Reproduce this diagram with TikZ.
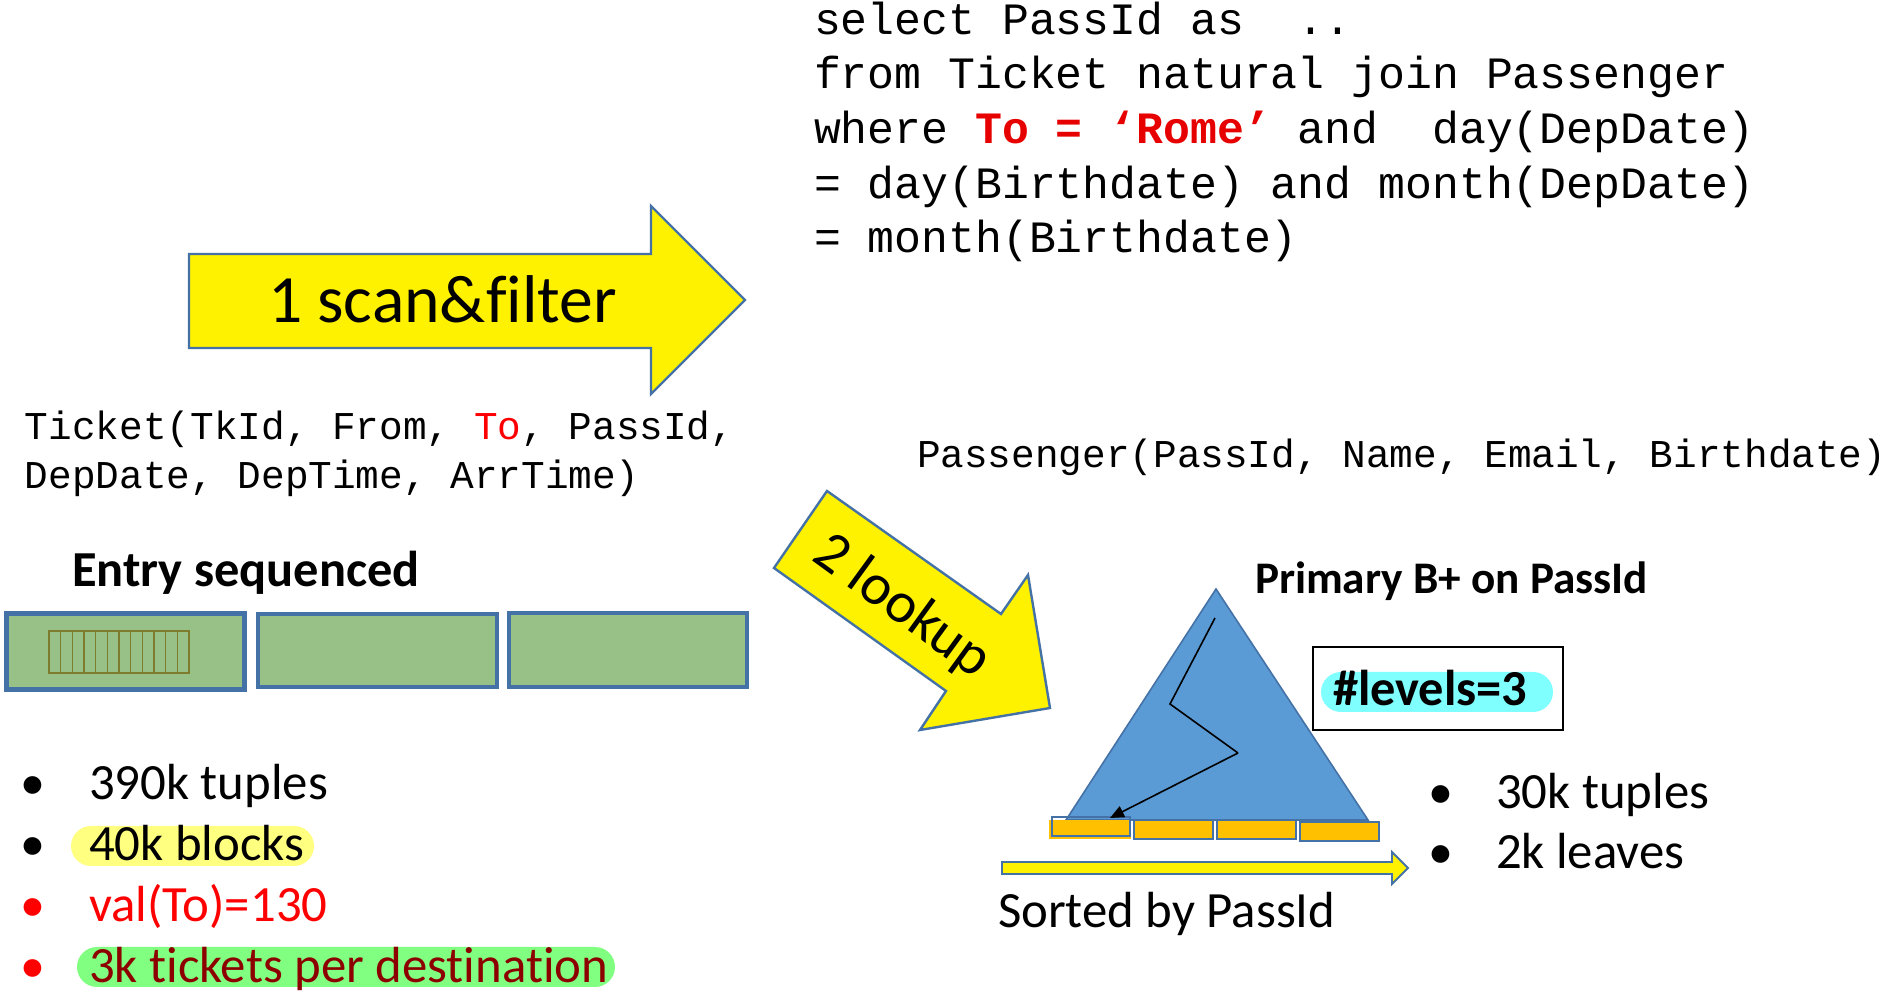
\documentclass[tikz,border=0pt]{standalone}
\usepackage{fontspec}
\setmainfont{Carlito}[Ligatures=NoCommon]
\newfontfamily\mono{Liberation Mono}
\usetikzlibrary{arrows.meta}
\definecolor{ppblue}{RGB}{68,114,166}
\definecolor{trifill}{RGB}{91,155,213}
\definecolor{blockgreen}{RGB}{152,193,135}
\definecolor{leaforange}{RGB}{255,192,0}
\definecolor{hlyellow}{RGB}{255,255,128}
\definecolor{hlgreen}{RGB}{128,255,128}
\definecolor{hlcyan}{RGB}{128,255,255}
\definecolor{darkred}{RGB}{140,0,0}
\definecolor{gridolive}{RGB}{125,125,45}
\definecolor{sqlred}{RGB}{230,0,0}
\tikzset{
  lbl/.style={anchor=base west, inner sep=0pt, outer sep=0pt},
  body/.style={lbl, font=\fontsize{25.4pt}{30pt}\selectfont},
  boldlbl/.style={lbl, font=\bfseries\fontsize{25.2pt}{30pt}\selectfont},
  sql/.style={lbl, font=\mono\fontsize{22.4pt}{27pt}\selectfont},
  schema/.style={lbl, font=\mono\fontsize{19.7pt}{24pt}\selectfont},
  bul/.style={anchor=base, inner sep=0pt, outer sep=0pt, font=\fontsize{25pt}{30pt}\selectfont},
  blockarrow/.style={fill=yellow, draw=ppblue, line width=1.2pt, line join=miter},
  blockbox/.style={fill=blockgreen, draw=ppblue, line width=2pt},
  leafbox/.style={fill=leaforange, draw=ppblue, line width=1pt},
  pill/.style={rounded corners=10pt, draw=none},
}
\begin{document}
\begin{tikzpicture}[x=0.5pt,y=-0.5pt]
\useasboundingbox (0,0) rectangle (1887,999);

% ---------- SQL query ----------
\node[sql] (q1) at (814,35) {select PassId as~~..};
\node[sql] (q2) at (814,89) {from Ticket natural join Passenger};
\node[sql] (q3) at (814,144) {where {\bfseries\color{sqlred}To = ‘Rome’} and~~day(DepDate)};
\node[sql] (q4) at (814,199) {= day(Birthdate) and month(DepDate)};
\node[sql] (q5) at (814,253) {= month(Birthdate)};

% ---------- arrow 1 ----------
\draw[blockarrow] (189,254) -- (651,254) -- (651,206) -- (745,300) -- (651,394) -- (651,348) -- (189,348) -- cycle;
\node[lbl, font=\fontsize{33.8pt}{40pt}\selectfont] (a1) at (268,323) {1 scan\&filter};

% ---------- schemas ----------
\node[schema] (t1) at (25,440) {Ticket(TkId, From, {\color{red}To}, PassId,};
\node[schema] (t2) at (25,489) {DepDate, DepTime, ArrTime)};
\node[schema] (p1) at (917,468) {Passenger(PassId, Name, Email, Birthdate)};

% ---------- entry sequenced ----------
\node[boldlbl] (es) at (72,587) {Entry sequenced};
\draw[blockbox, line width=2.5pt] (6,614) rectangle (244,690);
\draw[blockbox] (258,614) rectangle (497,687);
\draw[blockbox] (509,613) rectangle (747,687);
\draw[gridolive, line width=0.8pt] (49,631) rectangle (189,673);
\foreach \k in {1,...,11} {
  \draw[gridolive, line width=0.8pt] ({49+\k*140/12},631) -- ({49+\k*140/12},673);
}

% ---------- left bullets ----------
\fill[hlyellow, pill] (71,826) rectangle (314,866);
\fill[hlgreen, pill] (77,947) rectangle (615,987);
\node[bul] (b1) at (33,800) {•};
\node[bul] (b2) at (33,861) {•};
\node[bul, text=red] (b3) at (33,922) {•};
\node[bul, text=red] (b4) at (33,983) {•};
\node[body] (l1) at (89,800) {390k tuples};
\node[body] (l2) at (89,861) {40k blocks};
\node[body, text=red] (l3) at (89,922) {val(To)=130};
\node[body, text=darkred] (l4) at (89,983) {3k tickets per destination};

% ---------- arrow 2 ----------
\draw[blockarrow] (827,491) -- (1001,614) -- (1028,575) -- (1050,708) -- (920,730) -- (946,691) -- (774,568) -- cycle;
\node[inner sep=0pt, rotate=-36, font=\fontsize{29pt}{34pt}\selectfont] (a2) at (902,607) {2 lookup};

% ---------- B+ tree ----------
\node[lbl, font=\bfseries\fontsize{22.6pt}{26pt}\selectfont] (bt) at (1255,594) {Primary B+ on PassId};
\draw[fill=trifill, draw=ppblue, line width=0.8pt] (1216,589) -- (1368,820) -- (1066,820) -- cycle;
\fill[leaforange] (1049,820) rectangle (1131,839);
\draw[leafbox, fill=none] (1052,817) rectangle (1130,836);
\draw[leafbox] (1134,820) rectangle (1213,839);
\draw[leafbox] (1217,820) rectangle (1296,839);
\draw[leafbox] (1300,822) rectangle (1379,841);
\coordinate (r0) at (1215,618);
\coordinate (r1) at (1170,704);
\coordinate (r2) at (1238,753);
\coordinate (r3) at (1110,818);
\draw[black, line width=0.8pt] (r0) -- (r1) -- (r2);
\draw[black, line width=0.8pt, -{Triangle[length=7pt,width=6pt]}] (r2) -- (r3);

% levels box
\draw[black, line width=1.2pt] (1313,647) rectangle (1563,730);
\fill[hlcyan, pill] (1321,672) rectangle (1553,712);
\node[lbl, font=\bfseries\fontsize{25.2pt}{30pt}\selectfont] (lv) at (1333,706) {\#levels=3};

% right bullets
\node[bul] (rb1) at (1441,809) {•};
\node[bul] (rb2) at (1441,869) {•};
\node[body] (r1t) at (1496,809) {30k tuples};
\node[body] (r2t) at (1496,869) {2k leaves};

% sorted arrow
\draw[fill=yellow, draw=ppblue, line width=0.9pt] (1002,862) -- (1392,862) -- (1392,852) -- (1408,868) -- (1392,884) -- (1392,874) -- (1002,874) -- cycle;
\node[body] (st) at (998,928) {Sorted by PassId};
\end{tikzpicture}
\end{document}
